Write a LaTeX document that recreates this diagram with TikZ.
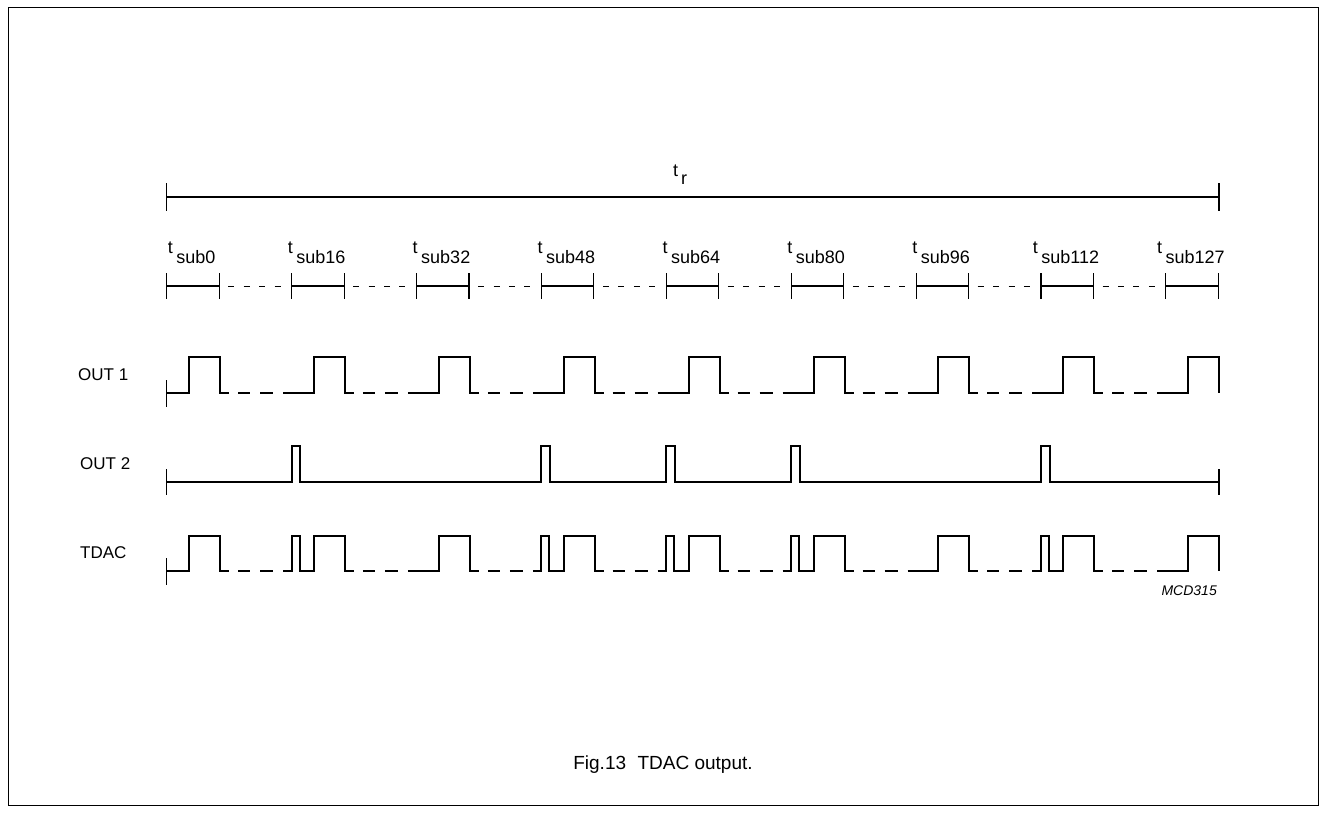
\documentclass[tikz,border=0pt]{standalone}
\usepackage{fontspec}
\setmainfont{Liberation Sans}
\begin{document}
\begin{tikzpicture}[x=1pt,y=-1pt,
  wave/.style={line width=2pt,line join=miter},
  tick/.style={line width=1.1pt},
  seg/.style={line width=2pt},
  dsh/.style={line width=1pt,dash pattern=on 6pt off 9.4pt},
  lbl/.style={font=\fontsize{18}{21}\selectfont,inner sep=0pt},
  sig/.style={font=\fontsize{17}{20}\selectfont,inner sep=0pt,anchor=west}]
\useasboundingbox (0,0) rectangle (1326,812);
\draw[line width=1pt] (8,7) rectangle (1318,805);
% t_r
\coordinate (trL) at (166.7,197);
\coordinate (trR) at (1219,197);
\draw[line width=2.6pt] (trL) -- (trR);
\draw[tick] (166.7,183) -- (166.7,211);
\draw[tick] (1219,183) -- (1219,211);
\node[lbl,anchor=base] (tr) at (680,176) {t\hspace{3pt}\raisebox{-8pt}{r}};
% tick row
\foreach \k/\lab in {0/0,1/16,2/32,3/48,4/64,5/80,6/96,7/112,8/127}{
  \pgfmathsetmacro{\xo}{166.7+124.9*\k}
  \draw[tick] (\xo,273) -- (\xo,299);
  \draw[tick] (\xo+52.5,273) -- (\xo+52.5,299);
  \draw[seg] (\xo,286) -- (\xo+52.5,286);
  \node[lbl,anchor=base] (ts\k) at (\xo+25,253) {t\hspace{3.5pt}\raisebox{-10pt}{sub\lab}};
}
\foreach \k in {0,...,7}{
  \pgfmathsetmacro{\xo}{166.7+124.9*\k}
  \draw[dsh] (\xo+61.6,286) -- (\xo+116,286);
}
% labels
\node[sig] (o1) at (78,375) {OUT 1};
\node[sig] (o2) at (80,464) {OUT 2};
\node[sig] (td) at (80,553) {TDAC};
% OUT1 and TDAC
\foreach \yh/\yl/\yt in {357/393/0,536/571/1}{
  \pgfmathsetmacro{\ya}{\yl-13}
  \pgfmathsetmacro{\yb}{\yl+14}
  \draw[tick] (166.7,\ya) -- (166.7,\yb);
  \foreach \k in {0,...,8}{
    \pgfmathsetmacro{\xo}{166.7+124.9*\k}
    \pgfmathsetmacro{\r}{\xo+22.3}
    \pgfmathsetmacro{\f}{\xo+53.3}
    \pgfmathsetmacro{\s}{\k==0 ? 166.7 : \xo-8.6}
    \pgfmathtruncatemacro{\np}{(\yt==1)*((\k==1)+(\k==3)+(\k==4)+(\k==5)+(\k==7))}
    \ifnum\np=1
      \draw[wave] (\s,\yl) -- (\xo,\yl) -- (\xo,\yh) -- (\xo+8,\yh) -- (\xo+8,\yl)
        -- (\r,\yl) -- (\r,\yh) -- (\f,\yh) -- (\f,\yl) -- (\f+9,\yl);
    \else
      \ifnum\k=8
        \draw[wave] (\s,\yl) -- (\r,\yl) -- (\r,\yh) -- (\f,\yh) -- (\f,\yl);
      \else
        \draw[wave] (\s,\yl) -- (\r,\yl) -- (\r,\yh) -- (\f,\yh) -- (\f,\yl) -- (\f+9,\yl);
      \fi
    \fi
    \ifnum\k<8
      \draw[wave] (\f+18,\yl) -- (\f+30,\yl);
      \draw[wave] (\f+40,\yl) -- (\f+53,\yl);
    \fi
  }
}
% OUT2
\draw[tick] (166.7,469) -- (166.7,495);
\draw[tick] (1219,469) -- (1219,495);
\draw[wave] (166.7,482)
  \foreach \k in {1,3,4,5,7}{ -- ({166.7+124.9*\k},482) -- ({166.7+124.9*\k},446) -- ({166.7+124.9*\k+8.5},446) -- ({166.7+124.9*\k+8.5},482) }
  -- (1219,482);
% MCD
\node[font=\fontsize{14}{16}\selectfont\itshape,inner sep=0pt,anchor=east] (mcd) at (1217,591) {MCD315};
% caption
\node[font=\fontsize{19}{22}\selectfont,inner sep=0pt] (cap) at (663,765) {Fig.13\hspace{0.6em}TDAC output.};
\end{tikzpicture}
\end{document}
